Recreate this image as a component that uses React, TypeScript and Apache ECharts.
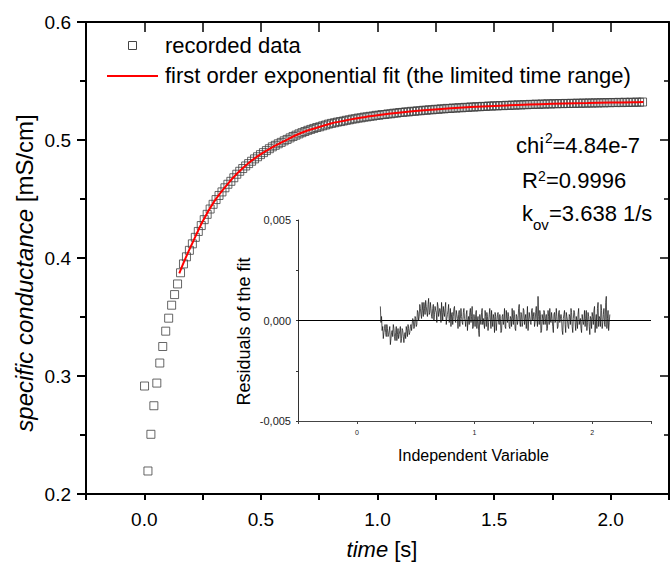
import React, { useEffect, useRef } from "react";
import * as echarts from "echarts";

const FONT = "'Liberation Sans', Arial, Helvetica, sans-serif";

// ---- recorded data (squares) ----
const outlierTime = [0.001];
const outlierValue = [0.2915];
const recordedStart = 0.0156; // s, first sample of the regular time grid
const recordedStep = 0.0127; // s, sampling interval
const recordedValues = [
  0.2195, 0.2506, 0.2748, 0.294, 0.311, 0.325, 0.338, 0.349, 0.36, 0.369, 0.378,
  0.3875, 0.395, 0.401, 0.4065, 0.412, 0.4175, 0.4225, 0.4275, 0.4325,
  0.437, 0.4415, 0.4455, 0.4495, 0.453, 0.456, 0.4595, 0.4625, 0.465, 0.468,
  0.471, 0.4735, 0.4758, 0.478, 0.48, 0.482, 0.484, 0.4858, 0.4876, 0.4893,
  0.491, 0.4926, 0.4942, 0.4955, 0.4968, 0.498, 0.4993, 0.5005, 0.5018, 0.503,
  0.5041, 0.5052, 0.5062, 0.5072, 0.5082, 0.509, 0.5098, 0.5106, 0.5112, 0.512,
  0.5127, 0.5135, 0.5141, 0.5146, 0.5152, 0.5156, 0.5161, 0.5167, 0.5171, 0.5177,
  0.518, 0.5186, 0.5188, 0.5194, 0.5196, 0.5201, 0.5203, 0.5209, 0.521, 0.5215,
  0.5216, 0.5221, 0.5222, 0.5227, 0.5228, 0.5233, 0.5234, 0.5238, 0.5238, 0.5243,
  0.5243, 0.5247, 0.5248, 0.5252, 0.5252, 0.5256, 0.5256, 0.526, 0.526, 0.5264,
  0.5264, 0.5268, 0.5267, 0.5271, 0.527, 0.5274, 0.5273, 0.5277, 0.5276, 0.528,
  0.5279, 0.5282, 0.5282, 0.5285, 0.5284, 0.5288, 0.5287, 0.529, 0.5289, 0.5292,
  0.5291, 0.5294, 0.5293, 0.5296, 0.5295, 0.5298, 0.5297, 0.53, 0.5299, 0.5302,
  0.5301, 0.5304, 0.5302, 0.5305, 0.5304, 0.5307, 0.5305, 0.5308, 0.5307, 0.5309,
  0.5308, 0.531, 0.5309, 0.5311, 0.531, 0.5312, 0.5311, 0.5313, 0.5312, 0.5314,
  0.5313, 0.5315, 0.5314, 0.5316, 0.5315, 0.5317, 0.5316, 0.5318, 0.5317, 0.5319,
  0.5317, 0.532, 0.5318, 0.532, 0.5319, 0.5321, 0.532, 0.5322,
];

// ---- first order exponential fit (red line) ----
const fitTime = [
  0.15, 0.175, 0.2, 0.25, 0.3, 0.35, 0.4, 0.45, 0.5, 0.55, 0.6, 0.65, 0.7, 0.75,
  0.8, 0.85, 0.9, 0.95, 1.0, 1.1, 1.2, 1.3, 1.4, 1.5, 1.6, 1.7, 1.8, 1.9, 2.0, 2.1, 2.14,
];
const fitValue = [
  0.387, 0.399, 0.41, 0.431, 0.448, 0.461, 0.472, 0.481, 0.488, 0.494, 0.499, 0.504,
  0.508, 0.511, 0.514, 0.516, 0.518, 0.5195, 0.521, 0.5233, 0.5252, 0.5267, 0.5279,
  0.5289, 0.5297, 0.5304, 0.5309, 0.5313, 0.5317, 0.532, 0.5321,
];

// ---- residuals of the fit (inset), in units of 1e-3 ----
// samples at 0.200, 0.210, ... 2.150
const residualStart = 0.2;
const residualStep = 0.01;
const residualMilli = [
  0.7, 0.2, -0.3, -0.6, -0.2, -0.8, -0.4, -0.7, -0.3, -0.9,
  -0.5, -0.2, -0.8, -0.6, -1.0, -0.4, -0.7, -0.3, -0.9, -0.5,
  -1.1, -0.6, -0.3, -0.8, -0.4, -0.6, -0.2, -0.5, 0.0, -0.3,
  0.1, -0.2, 0.4, 0.2, 0.6, 0.1, 0.5, 0.9, 0.3, 0.7,
  0.2, 1.1, 0.4, 0.6, 0.1, 0.8, 0.3, 0.5, -0.1, 0.7,
  0.2, 0.5, 0.9, 0.0, 0.4, 0.6, -0.2, 0.3, 0.8, 0.1,
  -0.3, 0.4, 0.2, 0.7, -0.1, 0.3, -0.4, 0.5, 0.1, 0.2,
  -0.2, 0.6, 0.0, 0.3, -0.5, 0.2, 0.4, -0.1, 0.7, -0.3,
  0.1, 0.3, -0.4, 0.2, -0.8, 0.0, 0.4, -0.2, 0.1, 0.5,
  -0.3, 0.2, -0.1, 0.6, -0.4, 0.0, 0.3, -0.6, 0.2, -0.1,
  0.4, -0.2, 0.1, -0.5, 0.3, 0.0, -0.3, 0.5, -0.1, 0.2,
  -0.4, 0.1, 0.6, -0.2, 0.3, -0.5, 0.2, 0.0, 0.8, -0.3,
  0.3, -0.1, 0.5, 0.1, -0.4, 0.7, 0.0, 0.4, -0.2, 0.6,
  0.2, -0.3, 0.4, 0.0, 1.2, -0.2, 0.3, -0.5, 0.1, 0.5,
  -0.2, 0.3, -0.4, 0.2, 0.6, -0.1, 0.1, -0.6, 0.4, 0.0,
  0.2, -0.3, 0.5, -0.1, 0.1, -0.7, 0.3, -0.2, 0.4, 0.0,
  -0.4, 0.2, 0.6, -0.3, 0.1, 0.4, -0.5, 0.0, 0.3, -0.2,
  0.1, -0.6, 0.3, 0.0, -0.3, 0.5, -0.1, 0.2, -0.7, 0.1,
  0.4, -0.2, 0.7, 0.0, -0.4, 0.9, 0.2, -0.3, 0.5, -0.1,
  0.6, -0.3, 1.2, 0.1, -0.5, 0.3,
];
// in-between samples at 0.205, 0.215, ... 2.145
const residualMidStart = 0.205;
const residualMidMilli = [
  -0.1, -0.5, -0.9, -0.4, -0.6, -0.2, -0.8, -0.5, -1.2, -0.6,
  -0.8, -0.4, -1.0, -0.3, -0.7, -0.9, -0.5, -1.1, -0.4, -0.8,
  -0.7, -0.9, -0.5, -0.2, -0.7, -0.3, -0.5, 0.1, -0.4, 0.2,
  -0.3, 0.5, 0.0, 0.8, 0.3, 0.9, 0.2, 0.6, 1.0, 0.4,
  0.8, 0.3, 0.9, 0.2, 0.6, 0.0, 0.7, 0.4, 0.9, 0.2,
  0.6, -0.1, 0.4, 0.7, 0.2, 0.9, 0.1, 0.5, -0.1, 0.6,
  0.3, -0.2, 0.6, 0.0, 0.5, 0.1, 0.3, -0.3, 0.6, -0.1,
  0.4, 0.1, -0.3, 0.5, 0.0, -0.2, 0.6, 0.2, -0.4, 0.3,
  -0.3, 0.5, 0.0, -0.5, 0.3, -0.2, 0.6, 0.1, -0.4, 0.2,
  0.4, -0.5, 0.3, 0.0, 0.5, -0.3, 0.1, 0.4, -0.5, 0.3,
  -0.1, 0.3, -0.6, 0.2, -0.2, 0.6, -0.4, 0.1, 0.4, -0.3,
  0.2, -0.3, 0.1, 0.5, -0.4, 0.3, -0.2, 0.6, -0.1, 0.4,
  -0.3, 0.6, -0.2, 0.3, 0.1, -0.5, 0.4, -0.1, 0.5, 0.0,
  0.4, -0.1, 0.7, -0.3, 0.2, 0.5, -0.6, 0.3, -0.2, 0.4,
  0.1, -0.5, 0.5, -0.2, 0.0, 0.4, -0.3, 0.3, -0.1, 0.6,
  -0.4, 0.4, -0.1, 0.3, -0.5, 0.1, 0.5, -0.6, 0.2, -0.3,
  0.3, -0.2, 0.4, -0.6, 0.5, -0.1, 0.2, -0.4, 0.6, 0.0,
  -0.4, 0.3, -0.2, 0.5, 0.1, -0.5, 0.4, -0.3, 0.2, -0.4,
  0.2, 0.5, -0.6, 0.3, 0.6, -0.3, 0.1, 0.8, -0.4, 0.3,
  -0.2, 0.9, -0.4, 0.5, -0.1,
];

// ---- texts ----
const legendTexts = ["recorded data", "first order exponential fit (the limited time range)"];
const xTitle = ["time", " [s]"];
const yTitle = ["specific conductance", " [mS/cm]"];
const insetXTitle = "Independent Variable";
const insetYTitle = "Residuals of the fit";
const statChi = ["chi", "2", "=4.84e-7"];
const statR = ["R", "2", "=0.9996"];
const statK = ["k", "ov", "=3.638 1/s"];

const txt = (x: number, y: number, text: string, size: number, extra: any = {}) => ({
  type: "text",
  x,
  y,
  silent: true,
  style: {
    text,
    fontSize: size,
    fontFamily: FONT,
    fill: "#000",
    align: "left",
    verticalAlign: "middle",
    ...extra,
  },
});

export default function App() {
  const ref = useRef<HTMLDivElement>(null);

  useEffect(() => {
    document.body.style.margin = "0";
    const chart = echarts.init(ref.current as HTMLDivElement, null, { renderer: "svg" });

    const recorded: number[][] = [[outlierTime[0], outlierValue[0]]];
    recordedValues.forEach((v, i) => recorded.push([recordedStart + recordedStep * i, v]));
    const fit = fitTime.map((t, i) => [t, fitValue[i]]);
    const residuals: number[][] = [];
    residualMilli.forEach((v, i) => {
      residuals.push([residualStart + residualStep * i, v / 1000]);
      if (i < residualMidMilli.length) {
        residuals.push([residualMidStart + residualStep * i, residualMidMilli[i] / 1000]);
      }
    });

    const halfFmt = (v: number) => {
      const h = v * 2;
      return Math.abs(h - Math.round(h)) < 1e-6 ? v.toFixed(1) : "";
    };
    const intFmt = (v: number) => (Math.abs(v - Math.round(v)) < 1e-6 ? String(Math.round(v)) : "");

    const italicRich = (size: number) => ({
      i: { fontStyle: "italic", fontSize: size, fontFamily: FONT, fill: "#000" },
      n: { fontStyle: "normal", fontSize: size, fontFamily: FONT, fill: "#000" },
    });

    const option: any = {
      animation: false,
      backgroundColor: "#fff",
      grid: [
        { left: 86, top: 22, width: 592, height: 472 },
        { left: 298, top: 220, width: 353, height: 201 },
      ],
      xAxis: [
        {
          gridIndex: 0,
          type: "value",
          min: -0.25,
          max: 2.25,
          interval: 0.25,
          position: "bottom",
          axisLine: { onZero: false, lineStyle: { color: "#000", width: 2 } },
          axisTick: { length: 6, lineStyle: { color: "#000", width: 2 } },
          axisLabel: { margin: 16, fontSize: 19, fontFamily: FONT, color: "#000", formatter: halfFmt },
          splitLine: { show: false },
        },
        {
          gridIndex: 0,
          type: "value",
          min: -0.25,
          max: 2.25,
          interval: 0.25,
          position: "top",
          axisLine: { onZero: false, lineStyle: { color: "#000", width: 2 } },
          axisTick: { inside: true, length: 10, lineStyle: { color: "#000", width: 1.5 } },
          axisLabel: { show: false },
          splitLine: { show: false },
        },
        {
          gridIndex: 1,
          type: "value",
          min: -0.5,
          max: 2.5,
          interval: 0.5,
          position: "bottom",
          axisLine: { onZero: false, lineStyle: { color: "#444", width: 1 } },
          axisTick: { length: 3, lineStyle: { color: "#444", width: 1 } },
          axisLabel: { margin: 8, fontSize: 7, fontFamily: FONT, color: "#222", formatter: intFmt },
          splitLine: { show: false },
        },
      ],
      yAxis: [
        {
          gridIndex: 0,
          type: "value",
          min: 0.2,
          max: 0.6,
          interval: 0.1,
          position: "left",
          axisLine: { show: true, onZero: false, lineStyle: { color: "#000", width: 2 } },
          axisTick: { length: 9, lineStyle: { color: "#000", width: 2 } },
          minorTick: { show: true, splitNumber: 2, length: 6, lineStyle: { color: "#000", width: 2 } },
          axisLabel: {
            margin: 15,
            fontSize: 19,
            fontFamily: FONT,
            color: "#000",
            formatter: (v: number) => v.toFixed(1),
          },
          splitLine: { show: false },
          minorSplitLine: { show: false },
        },
        {
          gridIndex: 0,
          type: "value",
          min: 0.2,
          max: 0.6,
          interval: 0.1,
          position: "right",
          axisLine: { show: true, onZero: false, lineStyle: { color: "#000", width: 2 } },
          axisTick: { inside: true, length: 9, lineStyle: { color: "#000", width: 1.5 } },
          minorTick: { show: true, splitNumber: 2, length: 5, lineStyle: { color: "#000", width: 1.5 } },
          axisLabel: { show: false },
          splitLine: { show: false },
        },
        {
          gridIndex: 1,
          type: "value",
          min: -0.005,
          max: 0.005,
          interval: 0.005,
          position: "left",
          axisLine: { show: true, onZero: false, lineStyle: { color: "#333", width: 1 } },
          axisTick: { length: 2, lineStyle: { color: "#333", width: 1 } },
          minorTick: { show: true, splitNumber: 2, length: 2, lineStyle: { color: "#333", width: 1 } },
          axisLabel: {
            margin: 7,
            fontSize: 11,
            fontFamily: FONT,
            color: "#222",
            formatter: (v: number) => v.toFixed(3).replace(".", ","),
          },
          splitLine: { show: false },
          minorSplitLine: { show: false },
        },
      ],
      series: [
        {
          name: legendTexts[0],
          type: "scatter",
          xAxisIndex: 0,
          yAxisIndex: 0,
          data: recorded,
          symbol: "rect",
          symbolSize: 8,
          itemStyle: { color: "rgba(255,255,255,0)", borderColor: "#404040", borderWidth: 1 },
          z: 2,
        },
        {
          name: legendTexts[1],
          type: "line",
          xAxisIndex: 0,
          yAxisIndex: 0,
          data: fit,
          smooth: 0.35,
          showSymbol: false,
          lineStyle: { color: "#ff0000", width: 2 },
          z: 3,
        },
        {
          name: "residuals",
          type: "line",
          xAxisIndex: 2,
          yAxisIndex: 2,
          data: residuals,
          showSymbol: false,
          lineStyle: { color: "#111", width: 0.8, opacity: 0.9 },
          z: 3,
          markLine: {
            silent: true,
            symbol: ["none", "none"],
            label: { show: false },
            lineStyle: { color: "#000", width: 1.2, type: "solid" },
            data: [{ yAxis: 0 }],
            z: 2,
          },
        },
      ],
      graphic: [
        // legend
        {
          type: "rect",
          silent: true,
          shape: { x: 128.5, y: 41.5, width: 8, height: 8 },
          style: { fill: "none", stroke: "#444", lineWidth: 1 },
        },
        txt(165, 45.7, legendTexts[0], 22),
        {
          type: "line",
          silent: true,
          shape: { x1: 107, y1: 76, x2: 158, y2: 76 },
          style: { stroke: "#ff0000", lineWidth: 2 },
        },
        txt(165, 75.7, legendTexts[1], 22),
        // statistics
        txt(516, 145.4, statChi[0], 22),
        txt(545, 138.4, statChi[1], 14),
        txt(552.5, 145.4, statChi[2], 22),
        txt(522, 180.4, statR[0], 22),
        txt(538, 175.8, statR[1], 14),
        txt(546, 180.4, statR[2], 22),
        txt(522, 213.1, statK[0], 22),
        txt(533, 224.8, statK[1], 15),
        txt(549, 213.1, statK[2], 22),
        // axis titles
        {
          type: "text",
          x: 382,
          y: 549.4,
          silent: true,
          style: {
            text: `{i|${xTitle[0]}}{n|${xTitle[1]}}`,
            rich: italicRich(22),
            fontSize: 22,
            fontFamily: FONT,
            fill: "#000",
            align: "center",
            verticalAlign: "middle",
          },
        },
        {
          type: "text",
          x: 24,
          y: 273,
          rotation: Math.PI / 2,
          silent: true,
          style: {
            text: `{i|${yTitle[0]}}{n|${yTitle[1]}}`,
            rich: italicRich(24),
            fontSize: 24,
            fontFamily: FONT,
            fill: "#000",
            align: "center",
            verticalAlign: "middle",
          },
        },
        {
          type: "text",
          x: 473.5,
          y: 455.2,
          silent: true,
          style: {
            text: insetXTitle,
            fontSize: 16,
            fontFamily: FONT,
            fill: "#000",
            align: "center",
            verticalAlign: "middle",
          },
        },
        {
          type: "text",
          x: 244,
          y: 331.5,
          rotation: Math.PI / 2,
          silent: true,
          style: {
            text: insetYTitle,
            fontSize: 18,
            fontFamily: FONT,
            fill: "#000",
            align: "center",
            verticalAlign: "middle",
          },
        },
      ],
    };

    chart.setOption(option);
    return () => chart.dispose();
  }, []);

  return <div ref={ref} style={{ width: 672, height: 569, overflow: "hidden" }} />;
}
